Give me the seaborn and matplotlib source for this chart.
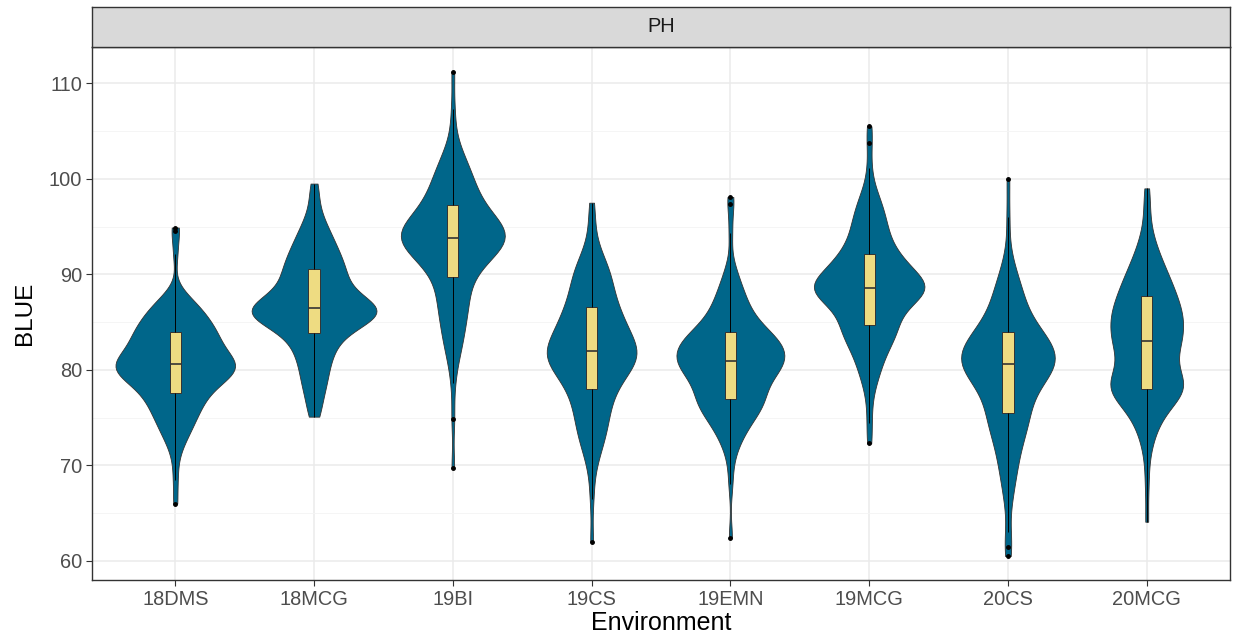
import numpy as np
import pandas as pd
import seaborn as sns
import matplotlib.pyplot as plt
from matplotlib.ticker import MultipleLocator

# values (41 per environment, sorted)
environments = ["18DMS", "18MCG", "19BI", "19CS", "19EMN", "19MCG", "20CS", "20MCG"]

blue_18DMS = [66.0, 68.5, 70.6, 72.2, 73.4, 74.4, 75.2, 75.9, 76.5, 77.1,
              77.6, 78.1, 78.5, 78.9, 79.2, 79.5, 79.8, 80.0, 80.2, 80.4,
              80.6, 80.9, 81.2, 81.5, 81.8, 82.1, 82.5, 82.9, 83.3, 83.6,
              84.0, 84.4, 84.8, 85.3, 85.8, 86.4, 87.0, 87.9, 92.1, 94.5, 94.9]
blue_18MCG = [75.1, 75.6, 76.4, 77.4, 78.6, 79.8, 80.9, 81.8, 82.6, 83.3,
              83.9, 84.4, 84.8, 85.1, 85.4, 85.6, 85.8, 86.0, 86.2, 86.4,
              86.5, 86.7, 87.0, 87.3, 87.7, 88.1, 88.6, 89.1, 89.6, 90.1,
              90.6, 91.1, 91.7, 92.3, 93.0, 93.8, 94.8, 96.0, 97.3, 98.5, 99.5]
blue_19BI = [69.7, 74.9, 78.6, 81.0, 82.8, 84.3, 85.6, 86.7, 87.7, 88.7,
             89.7, 90.5, 91.1, 91.6, 92.0, 92.4, 92.8, 93.1, 93.3, 93.6,
             93.8, 94.1, 94.3, 94.6, 94.9, 95.2, 95.5, 95.8, 96.3, 96.8,
             97.3, 97.9, 98.5, 99.2, 100.0, 100.8, 101.8, 103.0, 104.8, 107.3, 111.2]
blue_19CS = [62.0, 66.5, 69.0, 70.8, 72.3, 73.5, 74.5, 75.5, 76.4, 77.2,
             78.0, 78.6, 79.2, 79.7, 80.1, 80.5, 80.9, 81.2, 81.5, 81.8,
             82.0, 82.4, 82.8, 83.2, 83.6, 84.0, 84.5, 85.0, 85.5, 86.0,
             86.6, 87.3, 88.0, 88.8, 89.6, 90.4, 91.3, 92.6, 94.2, 95.9, 97.5]
blue_19EMN = [62.4, 68.0, 70.3, 72.0, 73.3, 74.3, 75.1, 75.7, 76.2, 76.6,
              77.0, 77.5, 78.0, 78.5, 79.0, 79.4, 79.8, 80.1, 80.4, 80.7,
              80.9, 81.2, 81.5, 81.8, 82.1, 82.4, 82.7, 83.0, 83.3, 83.6,
              84.0, 84.5, 85.1, 85.8, 86.6, 87.6, 88.8, 90.5, 94.3, 97.4, 98.1]
blue_19MCG = [72.3, 74.4, 76.5, 78.5, 80.0, 81.3, 82.3, 83.1, 83.7, 84.2,
              84.7, 85.3, 85.9, 86.5, 87.0, 87.4, 87.8, 88.1, 88.3, 88.5,
              88.6, 88.7, 88.9, 89.2, 89.6, 90.0, 90.4, 90.8, 91.2, 91.6,
              92.1, 92.8, 93.6, 94.4, 95.3, 96.3, 97.4, 98.8, 101.1, 103.8, 105.5]
blue_20CS = [60.5, 61.5, 63.0, 66.5, 68.8, 70.6, 72.0, 73.2, 74.0, 74.8,
             75.5, 76.3, 77.0, 77.7, 78.3, 78.8, 79.3, 79.7, 80.0, 80.3,
             80.6, 80.9, 81.2, 81.5, 81.8, 82.1, 82.5, 82.9, 83.3, 83.6,
             84.0, 84.6, 85.3, 86.1, 87.0, 88.0, 89.2, 90.6, 92.5, 96.0, 100.0]
blue_20MCG = [64.1, 67.8, 70.5, 72.6, 74.2, 75.4, 76.3, 77.0, 77.5, 77.8,
              78.0, 78.3, 78.7, 79.1, 79.6, 80.2, 80.9, 81.6, 82.2, 82.6,
              83.0, 83.4, 83.9, 84.4, 84.9, 85.3, 85.7, 86.1, 86.6, 87.1,
              87.7, 88.2, 88.8, 89.5, 90.2, 91.1, 92.3, 93.8, 95.6, 97.4, 99.0]

# how many lines each listed value stands for (the tails are sparse)
counts = [1, 1, 1, 2] + [3] * 33 + [2, 1, 1, 1]

all_values = [blue_18DMS, blue_18MCG, blue_19BI, blue_19CS,
              blue_19EMN, blue_19MCG, blue_20CS, blue_20MCG]

df = pd.DataFrame({
    "Environment": [env for env, vals in zip(environments, all_values) for _ in vals],
    "BLUE": [v for vals in all_values for v in vals],
})
df_kde = pd.DataFrame({
    "Environment": np.repeat(df["Environment"].values, counts * len(environments)),
    "BLUE": np.repeat(df["BLUE"].values, counts * len(environments)),
})

sns.set_style("white")
plt.rcParams["font.family"] = ["Liberation Sans", "DejaVu Sans"]

fig = plt.figure(figsize=(12.38, 6.42), dpi=100)
ax = fig.add_axes([92 / 1238, 1 - 580 / 642, 1138 / 1238, 533 / 642])

sns.violinplot(data=df_kde, x="Environment", y="BLUE", order=environments,
               color="#00668A", saturation=1, inner=None, cut=0,
               density_norm="area", width=0.9, bw_adjust=0.7,
               linewidth=0.6, linecolor="#333333", ax=ax)
sns.boxplot(data=df, x="Environment", y="BLUE", order=environments,
            color="#EEDC82", saturation=1, width=0.08, whis=1.5,
            linewidth=0.7, linecolor="#333333",
            whiskerprops=dict(color="black", linewidth=0.7),
            capprops=dict(linewidth=0),
            medianprops=dict(color="#333333", linewidth=1.2),
            flierprops=dict(marker="o", markersize=2.5, markerfacecolor="black",
                            markeredgecolor="black"),
            ax=ax)

ax.set_xlim(-0.6, 7.6)
ax.set_ylim(58.0, 113.8)
ax.yaxis.set_major_locator(MultipleLocator(10))
ax.yaxis.set_minor_locator(MultipleLocator(5))
ax.set_axisbelow(True)
ax.grid(True, which="major", color="#EBEBEB", linewidth=1.1)
ax.grid(True, which="minor", axis="y", color="#F4F4F4", linewidth=0.6)
for s in ax.spines.values():
    s.set_color("#333333")
    s.set_linewidth(1.0)
ax.tick_params(axis="both", which="major", length=4, width=0.8, color="#333333",
               labelsize=14.4, labelcolor="#4D4D4D", left=True, bottom=True, pad=3)
ax.tick_params(axis="y", which="minor", length=0)
ax.set_xlabel("Environment", fontsize=18, color="black", labelpad=2)
ax.set_ylabel("BLUE", fontsize=17.5, color="black", labelpad=9)

# facet strip
strip = fig.add_axes([92 / 1238, 1 - 47 / 642, 1138 / 1238, 40 / 642])
strip.set_facecolor("#D9D9D9")
strip.set_xticks([])
strip.set_yticks([])
for s in strip.spines.values():
    s.set_color("#333333")
    s.set_linewidth(1.0)
strip.text(0.5, 0.5, "PH", ha="center", va="center", fontsize=14.4,
           color="#1A1A1A", transform=strip.transAxes)

plt.savefig("out.png", dpi=100)
